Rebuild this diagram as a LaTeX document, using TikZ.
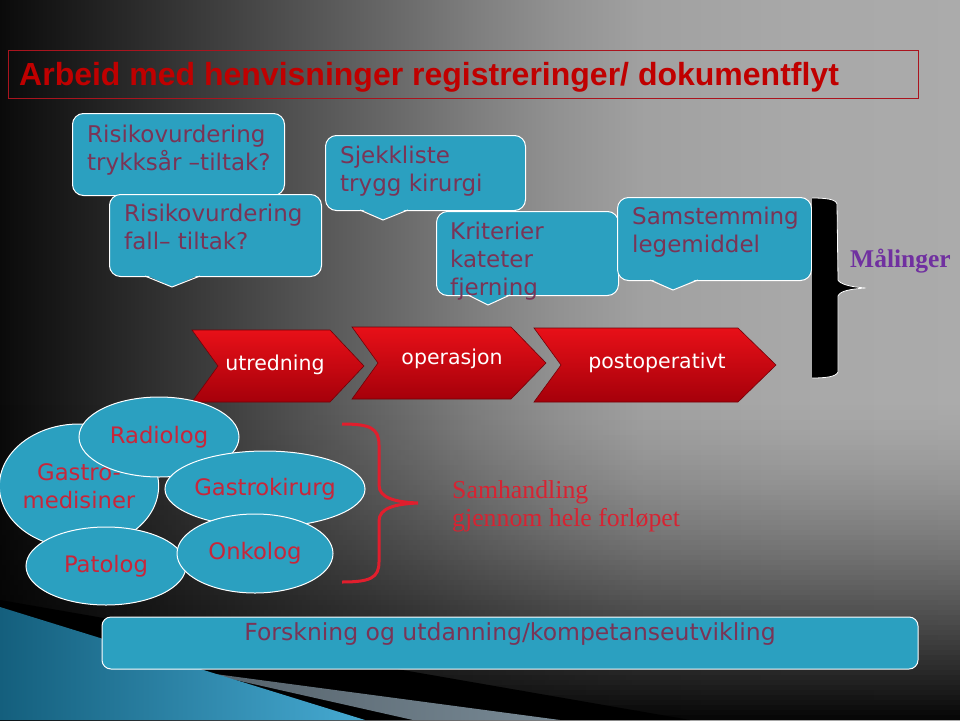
\documentclass[tikz,border=0pt]{standalone}
\usepackage{fontspec}
\setmainfont{DejaVu Sans}
\newfontfamily\titlefont{Liberation Sans}
\newfontfamily\seriffont{Liberation Serif}
\usetikzlibrary{shapes.geometric}
\definecolor{boxblue}{RGB}{43,160,192}
\definecolor{calltext}{RGB}{122,52,86}
\definecolor{elltext}{RGB}{200,38,58}
\definecolor{titlered}{RGB}{192,0,0}
\definecolor{titleframe}{RGB}{170,20,30}
\definecolor{bracered}{RGB}{225,30,45}
\definecolor{samred}{RGB}{215,35,50}
\definecolor{malpurple}{RGB}{112,48,160}
\definecolor{chevtop}{RGB}{232,16,24}
\definecolor{chevbot}{RGB}{165,0,10}
\definecolor{decoA}{RGB}{20,95,125}
\definecolor{decoB}{RGB}{70,170,210}
\definecolor{decogray}{RGB}{120,138,150}
\pgfdeclarehorizontalshading{bgshade}{100bp}{color(0bp)=(black!96); color(25bp)=(black!96); color(35.5bp)=(black!77); color(40.5bp)=(black!68); color(46bp)=(black!58); color(50bp)=(black!50); color(54bp)=(black!43); color(58.5bp)=(black!37); color(66.5bp)=(black!34); color(75bp)=(black!33); color(100bp)=(black!33)}
\begin{document}
\begin{tikzpicture}[x=1pt,y=-1pt,
 callbox/.style={draw=white, line width=1pt, fill=boxblue, rounded corners=11pt, inner sep=0pt, anchor=north west},
 calltxt/.style={text=calltext, font=\fontsize{23}{28}\selectfont, align=left, inner sep=0pt, anchor=north west},
 ellbox/.style={ellipse, draw=white, line width=1pt, fill=boxblue, inner sep=0pt, text=elltext, font=\fontsize{22.7}{28}\selectfont, align=center},
 chev/.style={top color=chevtop, bottom color=chevbot, draw=chevbot!70!black, line width=0.6pt},
 chevtxt/.style={text=white, font=\fontsize{20.5}{24}\selectfont, anchor=mid, inner sep=0pt},
 pointer/.style={fill=boxblue},
 pointeredge/.style={draw=white, line width=1pt},
]
\useasboundingbox (0,0) rectangle (960,720);
% background
\shade[shading=bgshade] (0,0) rectangle (960,720);
\foreach \i in {0,...,63}{
  \pgfmathsetmacro\op{0.97*((\i+0.5)/64)^1.5}
  \fill[black, fill opacity=\op] (0,{400+5*\i}) rectangle (960,{405+5*\i});
}
% bottom-left decoration
\fill[black] (0,600) -- (690,720) -- (0,720) -- cycle;
\shade[left color=decogray!70!black, right color=decogray] (200,672) -- (560,720) -- (413,720) -- cycle;
\shade[left color=decoA, right color=decoB] (0,607) -- (365,720) -- (0,720) -- cycle;

% title
\node[draw=titleframe, line width=1pt, minimum width=910, minimum height=48, anchor=north west, inner sep=0pt] (tb) at (8,49.5) {};
\node[anchor=base west, text=titlered, font=\titlefont\bfseries\fontsize{32}{36}\selectfont, inner sep=0pt] (tt) at (19,85) {Arbeid med henvisninger registreringer/ dokumentflyt};

% callouts
\node[callbox, minimum width=212, minimum height=82] (c1) at (72,113) {};
\node[calltxt] (t1) at (87,125) {Risikovurdering\\trykksår –tiltak?};

\node[callbox, minimum width=212, minimum height=82] (c2) at (109,194) {};
\fill[pointer] (145,274.6) -- (172,287) -- (200,274.6) -- cycle;
\draw[pointeredge] (145,276) -- (172,287) -- (200,276);
\node[calltxt] (t2) at (124,204) {Risikovurdering\\fall– tiltak?};

\node[callbox, minimum width=200, minimum height=75] (c3) at (325,135) {};
\fill[pointer] (360,208.6) -- (383,220) -- (408,208.6) -- cycle;
\draw[pointeredge] (360,210) -- (383,220) -- (408,210);
\node[calltxt] (t3) at (340,146) {Sjekkliste\\trygg kirurgi};

\node[callbox, minimum width=182, minimum height=84] (c4) at (436,211) {};
\fill[pointer] (468,293.6) -- (488,305) -- (510,293.6) -- cycle;
\draw[pointeredge] (468,295) -- (488,305) -- (510,295);
\node[calltxt] (t4) at (450,222) {Kriterier\\kateter\\fjerning};

\node[callbox, minimum width=194, minimum height=83] (c5) at (617,197) {};
\fill[pointer] (650,278.6) -- (673,290) -- (698,278.6) -- cycle;
\draw[pointeredge] (650,280) -- (673,290) -- (698,280);
\node[calltxt] (t5) at (632,207) {Samstemming\\legemiddel};

% black brace and Maalinger
\fill[black] (812,198) .. controls (825,198) and (836,199) .. (837,204) -- (838,280) .. controls (840,284) and (850,287) .. (866,288) .. controls (850,289) and (840,291) .. (838,296) -- (838,372) .. controls (836,377) and (825,378) .. (812,378) -- cycle;
\draw[white, line width=0.8pt] (812,198) .. controls (825,198) and (836,199) .. (837,204) -- (838,280) .. controls (840,284) and (850,287) .. (866,288) .. controls (850,289) and (840,291) .. (838,296) -- (838,372) .. controls (836,377) and (825,378) .. (812,378);
\node[anchor=mid west, text=malpurple, font=\seriffont\bfseries\fontsize{25.5}{30}\selectfont, inner sep=0pt] (mal) at (850,265) {Målinger};

% chevrons
\path[chev] (192,330) -- (330,330) -- (364,366) -- (330,402) -- (192,402) -- (218,366) -- cycle;
\path[chev] (352,327) -- (511,327) -- (546,363) -- (511,399) -- (352,399) -- (378,363) -- cycle;
\path[chev] (534,328) -- (738,328) -- (776,365) -- (738,402) -- (534,402) -- (561,365) -- cycle;
\node[chevtxt] (u) at (275,368) {utredning};
\node[chevtxt] (o) at (452,362) {operasjon};
\node[chevtxt] (p) at (657,366) {postoperativt};

% ellipses
\node[ellbox, minimum width=158, minimum height=124] (gm) at (79,486) {Gastro-\\medisiner};
\node[ellbox, minimum width=160, minimum height=80] (rad) at (159,437) {Radiolog};
\node[ellbox, minimum width=160, minimum height=76] (gk) at (265,489) {Gastrokirurg};
\node[ellbox, minimum width=160, minimum height=78] (pat) at (106,566) {Patolog};
\node[ellbox, minimum width=156, minimum height=79] (onk) at (255,553.5) {Onkolog};

% red brace
\draw[bracered, line width=3pt] (342,424) .. controls (370,424) and (379,428) .. (379,445) -- (379,485) .. controls (379,498) and (395,502) .. (418,503) .. controls (395,504) and (379,508) .. (379,521) -- (379,562) .. controls (379,578) and (370,582) .. (342,582);
\node[anchor=north west, align=left, text=samred, font=\seriffont\fontsize{25.8}{28}\selectfont, inner sep=0pt] (sam) at (452,480) {Samhandling\\gjennom hele forløpet};

% bottom box
\node[draw=white, line width=1pt, fill=boxblue, rounded corners=9pt, minimum width=816, minimum height=52, inner sep=0pt] (fb) at (510,643) {};
\node[anchor=mid, text=calltext, font=\fontsize{23.5}{28}\selectfont, inner sep=0pt] (ft) at (510,638) {Forskning og utdanning/kompetanseutvikling};
\end{tikzpicture}
\end{document}
